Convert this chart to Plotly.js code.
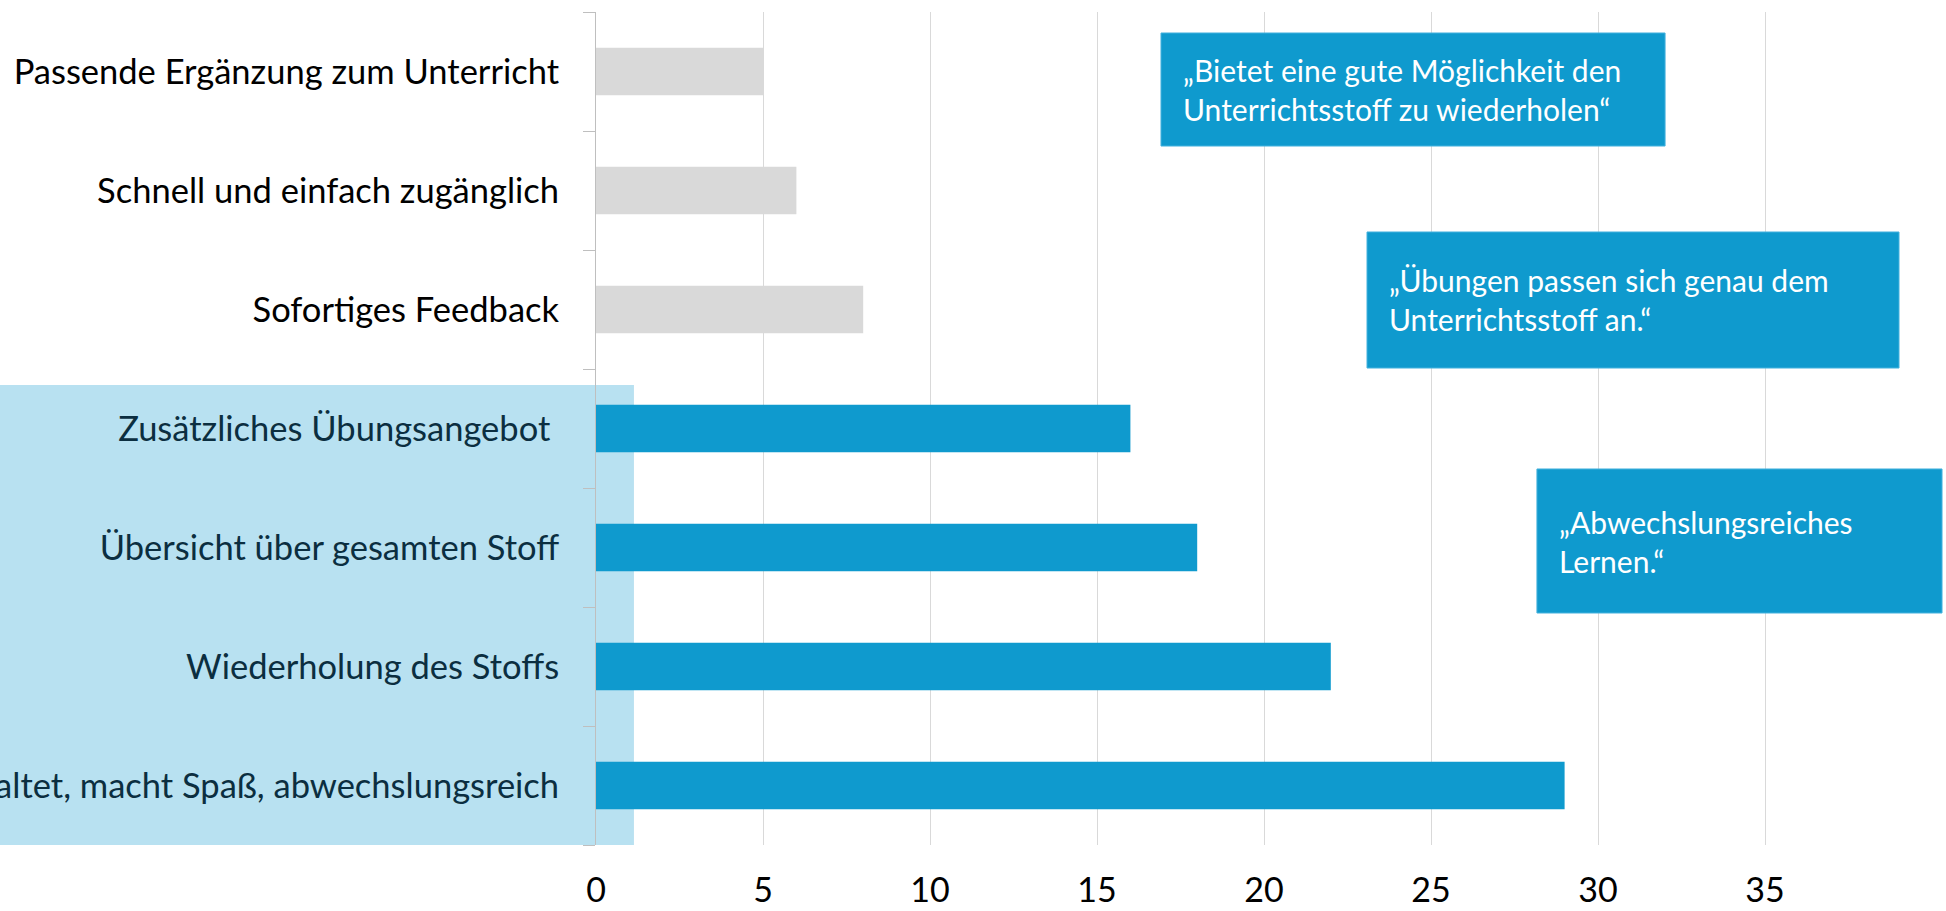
<!DOCTYPE html>
<html>
<head>
<meta charset="utf-8">
<script src="https://cdn.plot.ly/plotly-3.0.1.min.js"></script>
<style>
  html, body { margin: 0; padding: 0; background: #ffffff; }
  #chart { width: 1946px; height: 911px; }
</style>
</head>
<body>
<div id="chart"></div>
<script>
// ---- data ----
var greyCategories = ["Passende Ergänzung zum Unterricht", "Schnell und einfach zugänglich", "Sofortiges Feedback"];
var greyValues = [5, 6, 8];
var blueCategories = ["Zusätzliches Übungsangebot ", "Übersicht über gesamten Stoff", "Wiederholung des Stoffs", "Schön gestaltet, macht Spaß, abwechslungsreich"];
var blueValues = [16, 18, 22, 29];
var xTickValues = [0, 5, 10, 15, 20, 25, 30, 35];
var quotes = [
  "„Bietet eine gute Möglichkeit den<br>Unterrichtsstoff zu wiederholen“",
  "„Übungen passen sich genau dem<br>Unterrichtsstoff an.“",
  "„Abwechslungsreiches<br>Lernen.“"
];

// ---- build ----
var allCategories = greyCategories.concat(blueCategories);
var tickText = greyCategories.map(function (c) {
  return '<span style="color:#000000">' + c + '</span>';
}).concat(blueCategories.map(function (c) {
  return '<span style="color:#0B2E40">' + c + '</span>';
}));

var traces = [
  { type: 'bar', orientation: 'h', y: greyCategories, x: greyValues,
    marker: { color: '#D9D9D9' }, hoverinfo: 'x+y', showlegend: false },
  { type: 'bar', orientation: 'h', y: blueCategories, x: blueValues,
    marker: { color: '#0F9ACE' }, hoverinfo: 'x+y', showlegend: false }
];

var boxFont = { family: 'Lato, sans-serif', size: 30, color: '#FFFFFF' };
var boxes = [
  { x0: 0.4229, x1: 0.8002, y0: 0.8391, y1: 0.9748, tx: 0.4379, ty: 0.9070 },
  { x0: 0.5771, x1: 0.9753, y0: 0.5726, y1: 0.7359, tx: 0.5921, ty: 0.6543 },
  { x0: 0.7043, x1: 1.0075, y0: 0.2785, y1: 0.4514, tx: 0.7193, ty: 0.3649 }
];

var shapes = [
  { type: 'rect', xref: 'paper', yref: 'paper', x0: -0.5, x1: 0.0284, y0: 0, y1: 0.5522,
    fillcolor: '#B8E1F1', line: { width: 0 }, layer: 'below' }
];
var annotations = [];
boxes.forEach(function (b, i) {
  shapes.push({ type: 'rect', xref: 'paper', yref: 'paper', x0: b.x0, x1: b.x1, y0: b.y0, y1: b.y1,
    fillcolor: '#0F9ACE', line: { color: '#45B2DE', width: 1 }, layer: 'above' });
  annotations.push({ xref: 'paper', yref: 'paper', x: b.tx, y: b.ty, xanchor: 'left', yanchor: 'middle',
    align: 'left', showarrow: false, text: quotes[i], font: boxFont });
});

var layout = {
  width: 1946, height: 911,
  margin: { l: 596, r: 14, t: 12, b: 66, pad: 0 },
  paper_bgcolor: '#FFFFFF', plot_bgcolor: 'rgba(0,0,0,0)',
  barmode: 'overlay', bargap: 0.6,
  font: { family: 'Lato, sans-serif', size: 34, color: '#000000' },
  xaxis: {
    range: [0, 40], tickmode: 'array', tickvals: xTickValues,
    showgrid: true, gridcolor: '#D9D9D9', gridwidth: 1,
    zeroline: false, showline: false, ticks: '',
    ticklabelstandoff: 22, automargin: false,
    tickfont: { family: 'Lato, sans-serif', size: 34, color: '#000000' }
  },
  yaxis: {
    type: 'category', categoryorder: 'array', categoryarray: allCategories,
    autorange: 'reversed', tickmode: 'array', tickvals: allCategories, ticktext: tickText,
    tickson: 'boundaries', ticks: 'outside', ticklen: 12, tickcolor: '#BFBFBF', tickwidth: 1,
    showline: true, linecolor: '#BFBFBF', linewidth: 1,
    showgrid: false, zeroline: false, automargin: false,
    ticklabelstandoff: 29,
    tickfont: { family: 'Lato, sans-serif', size: 34.5 }
  },
  shapes: shapes,
  annotations: annotations
};

Plotly.newPlot('chart', traces, layout, { displayModeBar: false, staticPlot: true });
</script>
</body>
</html>
